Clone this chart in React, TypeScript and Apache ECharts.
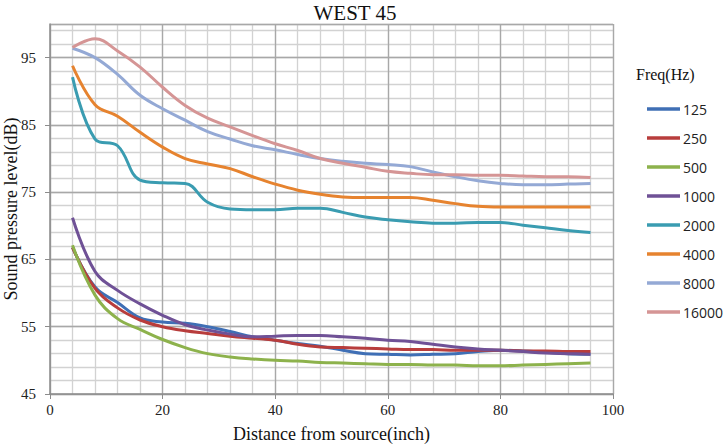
import React, { useEffect, useRef } from "react";
import * as echarts from "echarts";

const distances = [4, 8, 12, 16, 20, 24, 28, 32, 36, 40, 44, 48, 52, 56, 60, 64, 68, 72, 76, 80, 84, 88, 92, 96];

const freqNames = ["125", "250", "500", "1000", "2000", "4000", "8000", "16000"];
const freqColors = ["#3f6fb5", "#b83d3c", "#8db24c", "#6f5196", "#3a9cb1", "#e6832f", "#94a9d5", "#d59595"];

const f125 = [66.8, 60.9, 58.6, 56.3, 55.7, 55.5, 55.0, 54.3, 53.5, 53.0, 52.5, 52.1, 51.5, 51.0, 50.9, 50.8, 50.9, 51.0, 51.3, 51.5, 51.4, 51.2, 51.0, 50.9];
const f250 = [66.8, 60.7, 57.8, 56.0, 55.0, 54.4, 54.0, 53.6, 53.3, 53.0, 52.4, 52.0, 51.9, 51.8, 51.7, 51.6, 51.6, 51.5, 51.5, 51.5, 51.4, 51.4, 51.3, 51.3];
const f500 = [67.1, 59.7, 56.2, 54.6, 53.1, 51.9, 51.0, 50.5, 50.2, 50.0, 49.9, 49.7, 49.6, 49.5, 49.4, 49.4, 49.3, 49.3, 49.2, 49.2, 49.3, 49.4, 49.5, 49.6];
const f1000 = [71.2, 63.2, 60.4, 58.4, 56.7, 55.3, 54.5, 53.9, 53.5, 53.6, 53.7, 53.7, 53.5, 53.3, 53.0, 52.8, 52.4, 52.0, 51.7, 51.5, 51.3, 51.1, 51.0, 50.9];
const f2000 = [92.1, 82.9, 81.9, 76.8, 76.4, 76.3, 73.5, 72.5, 72.4, 72.4, 72.6, 72.6, 72.0, 71.3, 70.9, 70.6, 70.4, 70.4, 70.5, 70.5, 70.1, 69.7, 69.3, 69.0];
const f4000 = [93.8, 88.0, 86.3, 83.9, 81.7, 80.0, 79.2, 78.5, 77.3, 76.2, 75.3, 74.7, 74.3, 74.2, 74.2, 74.2, 73.8, 73.3, 72.9, 72.8, 72.8, 72.8, 72.8, 72.8];
const f8000 = [96.4, 95.0, 92.5, 89.4, 87.4, 85.7, 84.0, 82.9, 81.9, 81.3, 80.6, 80.0, 79.6, 79.3, 79.1, 78.8, 78.0, 77.3, 76.7, 76.3, 76.1, 76.1, 76.2, 76.3];
const f16000 = [96.5, 97.8, 96.0, 93.6, 90.6, 87.9, 86.0, 84.7, 83.4, 82.2, 81.2, 80.0, 79.3, 78.7, 78.1, 77.8, 77.6, 77.6, 77.5, 77.5, 77.4, 77.3, 77.3, 77.2];

const seriesValues = [f125, f250, f500, f1000, f2000, f4000, f8000, f16000];

const serif = "'Liberation Serif', 'Times New Roman', serif";

export default function App() {
  const ref = useRef<HTMLDivElement>(null);
  useEffect(() => {
    document.body.style.margin = "0";
    if (!ref.current) return;
    const chart = echarts.init(ref.current, null, { renderer: "svg" });
    const series = freqNames.map((name, i) => ({
      name,
      type: "line",
      xAxisIndex: 0,
      yAxisIndex: 0,
      smooth: 0.4,
      symbol: "none",
      showSymbol: false,
      lineStyle: { width: 3, color: freqColors[i] },
      itemStyle: { color: freqColors[i] },
      data: distances.map((d, j) => [d, seriesValues[i][j]]),
    }));
    chart.setOption({
      animation: false,
      backgroundColor: "#ffffff",
      title: [
        {
          text: "WEST 45",
          left: 350,
          textAlign: "center",
          top: -3,
          textStyle: { fontFamily: serif, fontSize: 21, fontWeight: "normal", color: "#111" },
        },
        {
          text: "Freq(Hz)",
          left: 636,
          top: 66,
          padding: 0,
          textStyle: { fontFamily: serif, fontSize: 16, fontWeight: "normal", color: "#111" },
        },
      ],
      legend: {
        orient: "vertical",
        left: 647,
        top: 101,
        icon: "rect",
        itemWidth: 33,
        itemHeight: 3.5,
        itemGap: 13,
        padding: 0,
        data: freqNames,
        textStyle: { fontFamily: "'Open Sans', sans-serif", fontSize: 14, lineHeight: 16, color: "#222", padding: [0, 0, 0, -2] },
      },
      grid: { left: 50, right: 110, top: 24, bottom: 54, outerBoundsMode: "none", containLabel: false },
      xAxis: [
        {
          type: "value",
          min: 0,
          max: 100,
          interval: 20,
          name: "Distance from source(inch)",
          nameLocation: "middle",
          nameGap: 31,
          nameMoveOverlap: false,
          nameTextStyle: { fontFamily: serif, fontSize: 18, color: "#111" },
          axisLine: { show: true, lineStyle: { color: "#8c8c8c", width: 1.5 } },
          axisTick: { show: true, length: 5, lineStyle: { color: "#8c8c8c" } },
          axisLabel: { fontFamily: serif, fontSize: 15, color: "#222", margin: 8 },
          splitLine: { show: true, lineStyle: { color: "#a8a8a8", width: 1.3 } },
          z: 2,
        },
        {
          type: "value",
          min: 0,
          max: 100,
          interval: 4,
          position: "bottom",
          axisLine: { show: false },
          axisTick: { show: false },
          axisLabel: { show: false },
          splitLine: { show: true, lineStyle: { color: "#d2d2d2", width: 1.3 } },
          z: 1,
        },
      ],
      yAxis: [
        {
          type: "value",
          min: 45,
          max: 100,
          interval: 10,
          name: "Sound pressure level(dB)",
          nameLocation: "middle",
          nameRotate: 90,
          nameGap: 30,
          nameMoveOverlap: false,
          nameTextStyle: { fontFamily: serif, fontSize: 18, color: "#111" },
          axisLine: { show: true, lineStyle: { color: "#8c8c8c", width: 1.5 } },
          axisTick: { show: true, length: 5, lineStyle: { color: "#8c8c8c" } },
          axisLabel: { fontFamily: serif, fontSize: 15, color: "#222", margin: 14, showMaxLabel: false },
          splitLine: { show: true, lineStyle: { color: "#a8a8a8", width: 1.3 } },
          z: 2,
        },
        {
          type: "value",
          min: 45,
          max: 100,
          interval: 2,
          position: "left",
          axisLine: { show: false },
          axisTick: { show: false },
          axisLabel: { show: false },
          splitLine: { show: true, lineStyle: { color: "#d2d2d2", width: 1.3 } },
          z: 1,
        },
      ],
      series,
    });
    return () => chart.dispose();
  }, []);
  return <div ref={ref} style={{ width: 723, height: 448 }} />;
}
